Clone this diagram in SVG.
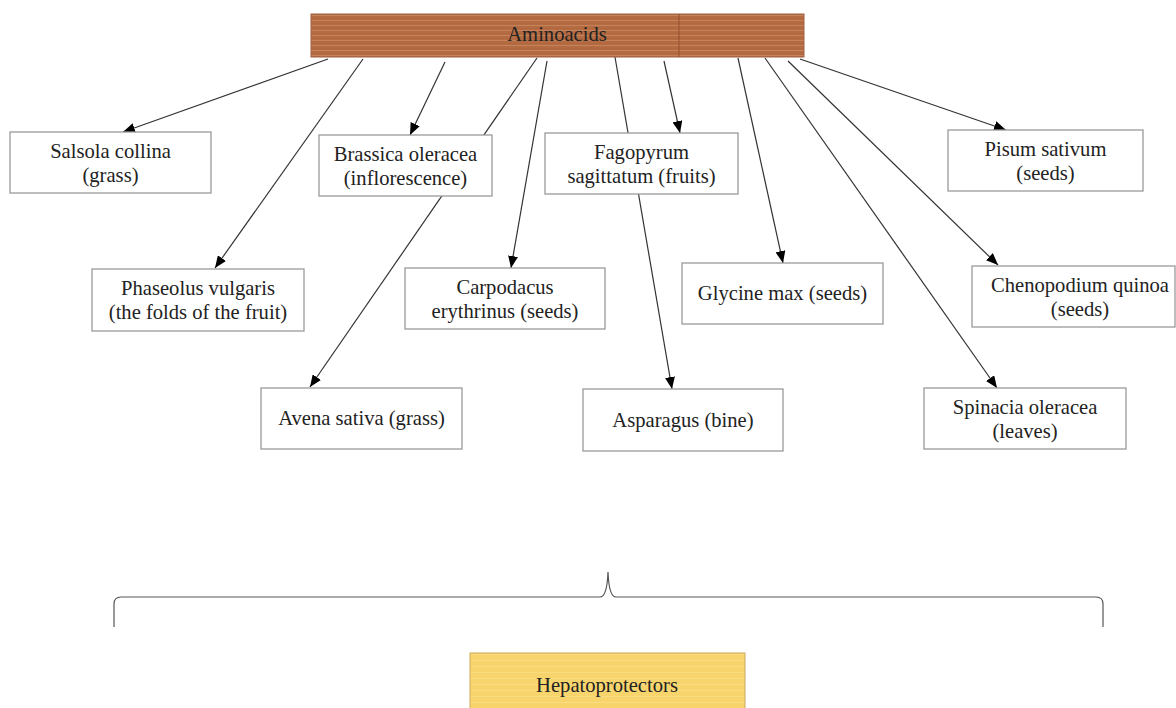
<svg xmlns="http://www.w3.org/2000/svg" width="1176" height="708" viewBox="0 0 1176 708">
<style>
.box{fill:#fff;stroke:#9a9a9a;stroke-width:1.3}
.t{font-family:"Liberation Serif","Times New Roman",serif;font-size:20.6px;fill:#222;text-anchor:middle}
.c{stroke:#333;stroke-width:1.2;fill:none}
</style>
<defs>
<marker id="ah" markerWidth="12" markerHeight="10" refX="12" refY="5" orient="auto" markerUnits="userSpaceOnUse">
<path d="M0,0 L12,5 L0,10 Z" fill="#000"/>
</marker>
<pattern id="brown" width="8" height="5" patternUnits="userSpaceOnUse">
<rect width="8" height="5" fill="#b56b42"/>
<rect y="0" width="8" height="1" fill="#c98a62" opacity="0.8"/>
<rect y="3" width="8" height="0.6" fill="#a05a34" opacity="0.4"/>
</pattern>
<pattern id="yellow" width="8" height="6" patternUnits="userSpaceOnUse">
<rect width="8" height="6" fill="#f8d56c"/>
<rect y="0" width="8" height="1" fill="#fbe08a" opacity="0.7"/>
</pattern>
</defs>
<rect width="1176" height="708" fill="#fff"/>
<g id="connectors">
<line class="c" x1="328" y1="59" x2="123" y2="132" marker-end="url(#ah)"/>
<line class="c" x1="363" y1="59" x2="215" y2="268" marker-end="url(#ah)"/>
<line class="c" x1="445" y1="62" x2="410" y2="135" marker-end="url(#ah)"/>
<line class="c" x1="537" y1="58" x2="310" y2="387" marker-end="url(#ah)"/>
<line class="c" x1="547" y1="61" x2="511" y2="268" marker-end="url(#ah)"/>
<line class="c" x1="615" y1="57" x2="672" y2="389" marker-end="url(#ah)"/>
<line class="c" x1="664" y1="61" x2="680" y2="133" marker-end="url(#ah)"/>
<line class="c" x1="738" y1="58" x2="783" y2="263" marker-end="url(#ah)"/>
<line class="c" x1="765" y1="58" x2="997" y2="388" marker-end="url(#ah)"/>
<line class="c" x1="788" y1="61" x2="998" y2="265" marker-end="url(#ah)"/>
<line class="c" x1="800" y1="59" x2="1006" y2="130" marker-end="url(#ah)"/>
</g>
<g id="aminoacids">
<rect x="311" y="14" width="493" height="43" fill="url(#brown)" stroke="#a06040" stroke-width="1"/>
<line x1="679" y1="14" x2="679" y2="57" stroke="#94502c" stroke-width="1"/>
<text class="t" x="557" y="41" fill="#3a1a10">Aminoacids</text>
</g>
<g id="salsola">
<rect class="box" x="10" y="132" width="201" height="61"/>
<text class="t" x="110.5" y="158">Salsola collina</text>
<text class="t" x="110.5" y="182">(grass)</text>
</g>
<g id="phaseolus">
<rect class="box" x="92" y="269" width="212" height="62"/>
<text class="t" x="198" y="295">Phaseolus vulgaris</text>
<text class="t" x="198" y="319">(the folds of the fruit)</text>
</g>
<g id="brassica">
<rect class="box" x="319" y="135" width="173" height="61"/>
<text class="t" x="405.5" y="161">Brassica oleracea</text>
<text class="t" x="405.5" y="185">(inflorescence)</text>
</g>
<g id="fagopyrum">
<rect class="box" x="545" y="133" width="193" height="61"/>
<text class="t" x="641.5" y="159">Fagopyrum</text>
<text class="t" x="641.5" y="183">sagittatum (fruits)</text>
</g>
<g id="pisum">
<rect class="box" x="948" y="130" width="195" height="61"/>
<text class="t" x="1045.5" y="156">Pisum sativum</text>
<text class="t" x="1045.5" y="180">(seeds)</text>
</g>
<g id="carpodacus">
<rect class="box" x="405" y="268" width="200" height="61"/>
<text class="t" x="505" y="294">Carpodacus</text>
<text class="t" x="505" y="318">erythrinus (seeds)</text>
</g>
<g id="glycine">
<rect class="box" x="682" y="263" width="201" height="61"/>
<text class="t" x="782.5" y="300">Glycine max (seeds)</text>
</g>
<g id="chenopodium">
<rect class="box" x="972" y="266" width="203" height="61"/>
<text class="t" x="1080" y="292">Chenopodium quinoa</text>
<text class="t" x="1080" y="316">(seeds)</text>
</g>
<g id="avena">
<rect class="box" x="261" y="388" width="201" height="61"/>
<text class="t" x="361.5" y="425">Avena sativa (grass)</text>
</g>
<g id="asparagus">
<rect class="box" x="583" y="389" width="200" height="62"/>
<text class="t" x="683" y="427">Asparagus (bine)</text>
</g>
<g id="spinacia">
<rect class="box" x="924" y="388" width="202" height="61"/>
<text class="t" x="1025" y="414">Spinacia oleracea</text>
<text class="t" x="1025" y="438">(leaves)</text>
</g>
<g id="bracket">
<path d="M114,627 L114,604 Q114,597 121,597 L600,597 Q607,597 608,572 Q609,597 616,597 L1096,597 Q1103,597 1103,604 L1103,627" fill="none" stroke="#555" stroke-width="1.2"/>
</g>
<g id="hepatoprotectors">
<rect x="470" y="653" width="275" height="60" fill="url(#yellow)" stroke="#c9a85a" stroke-width="1"/>
<text class="t" x="607" y="692">Hepatoprotectors</text>
</g>
</svg>
